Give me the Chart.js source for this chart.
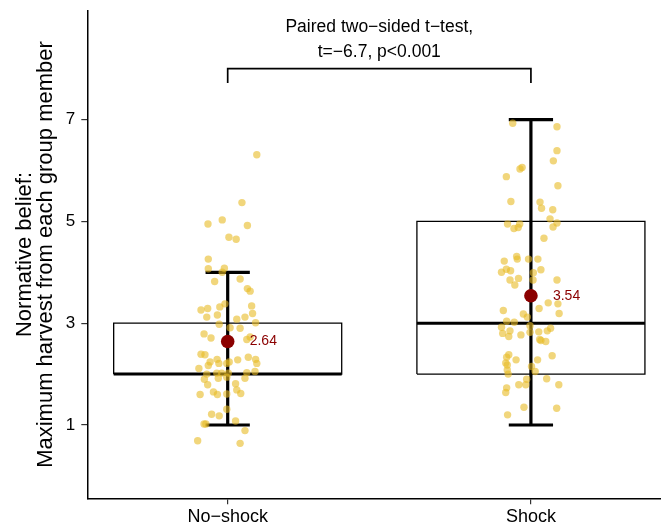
<!DOCTYPE html>
<html>
<head>
<meta charset="utf-8">
<script src="https://cdn.jsdelivr.net/npm/chart.js@4.4.1/dist/chart.umd.min.js"></script>
<style>
  html, body { margin: 0; padding: 0; background: #fff; }
  #chart { display: block; }
</style>
</head>
<body>
<canvas id="chart" width="661" height="528"></canvas>
<script>
// --- Data ---
const CATEGORIES = ['No\u2212shock', 'Shock'];
const Y_TICKS = [1, 3, 5, 7];

const BOX_Q1 = [2, 2];
const BOX_MEDIAN = [2, 3];
const BOX_Q3 = [3, 5];
const WHISKER_LOW = [1, 1];
const WHISKER_HIGH = [4, 7];
const MEANS = [2.64, 3.54];
const MEAN_LABELS = ['2.64', '3.54'];

const TEST_TEXT = ['Paired two\u2212sided t\u2212test,', 't=\u22126.7, p<0.001'];

// individual responses (jittered), y value and horizontal jitter in category units
const NOSHOCK_Y = [6.31, 5.37, 4.95, 5.03, 4.92, 4.69, 4.65, 4.26, 4.07, 4.08,
  4.00, 3.82, 3.87, 3.68, 3.63, 3.38, 3.34, 3.32, 3.26, 3.29,
  3.12, 3.16, 3.08, 3.12, 3.19, 3.01, 2.98, 2.91, 2.90, 2.79,
  2.71, 2.68, 2.73, 2.39, 2.38, 2.24, 2.29, 2.21, 2.21, 2.24,
  2.28, 2.33, 2.29, 2.21, 2.17, 2.11, 2.00, 2.02, 2.02, 2.02,
  2.03, 2.05, 1.90, 1.92, 1.94, 1.92, 1.79, 1.81, 1.69, 1.62,
  1.60, 1.65, 1.60, 1.61, 1.31, 1.21, 1.18, 1.08, 1.02, 1.02,
  0.89, 0.69, 0.64];
const NOSHOCK_JITTER = [0.096, 0.047, -0.065, -0.018, 0.065, 0.004, 0.028, -0.064, -0.064, -0.011,
  -0.018, -0.043, 0.041, 0.065, 0.074, -0.009, 0.079, -0.026, -0.088, -0.066,
  -0.069, -0.034, 0.030, 0.057, 0.082, 0.092, -0.028, 0.008, 0.041, -0.078,
  -0.055, 0.063, 0.074, -0.088, -0.075, -0.058, -0.035, -0.029, -0.003, 0.005,
  0.033, 0.068, 0.092, 0.096, -0.064, -0.095, -0.069, -0.036, -0.020, 0.002,
  0.063, 0.090, -0.077, -0.031, -0.003, 0.057, -0.066, 0.026, 0.030, 0.043,
  -0.091, -0.047, -0.034, -0.003, -0.003, -0.053, -0.028, 0.026, -0.078, -0.072,
  0.057, -0.099, 0.041];

const SHOCK_Y = [6.93, 6.86, 6.39, 6.19, 6.06, 6.03, 5.88, 5.70, 5.39, 5.38,
  5.26, 5.23, 5.05, 4.97, 4.89, 4.95, 4.95, 4.86, 4.88, 4.67,
  4.31, 4.26, 4.22, 4.26, 4.26, 4.06, 4.03, 4.00, 4.05, 3.99,
  3.85, 3.88, 3.75, 3.85, 3.85, 3.29, 3.40, 3.38, 3.19, 3.25,
  3.18, 3.12, 3.04, 3.02, 2.92, 2.80, 2.85, 2.74, 2.77, 2.95,
  2.82, 2.83, 2.85, 2.90, 2.68, 2.66, 2.64, 2.38, 2.33, 2.22,
  2.18, 2.28, 2.28, 2.36, 2.15, 2.05, 2.08, 2.00, 1.90, 1.79,
  1.79, 1.91, 1.79, 1.73, 1.64, 1.35, 1.33, 1.20];
const SHOCK_JITTER = [-0.060, 0.086, 0.086, 0.074, -0.029, -0.036, -0.081, 0.089, -0.066, 0.030,
  0.035, 0.072, 0.063, 0.086, 0.073, -0.077, -0.037, -0.056, -0.042, 0.043,
  -0.047, -0.045, -0.088, -0.008, 0.023, -0.081, -0.067, -0.097, 0.033, 0.008,
  -0.069, -0.041, -0.053, 0.007, 0.086, 0.027, 0.057, 0.089, 0.093, -0.091,
  -0.025, -0.012, -0.080, -0.055, -0.097, -0.093, -0.069, -0.073, -0.033, -0.003,
  -0.003, 0.026, 0.054, 0.065, 0.029, 0.033, 0.049, -0.073, -0.080, -0.083,
  -0.078, -0.049, 0.022, 0.070, 0.002, 0.014, -0.078, -0.075, -0.014, -0.040,
  -0.017, 0.052, 0.092, -0.080, -0.083, -0.023, 0.085, -0.077];

// --- Styling / geometry ---
const FONT = "'Liberation Sans', Arial, Helvetica, sans-serif";
const BOX_HALF = 0.376;     // half box width, category units
const CAP_HALF = 0.073;     // half whisker cap width
const BRACKET_Y = 8.0;
const BRACKET_TIP = 7.72;
const TEXT_Y = [8.727, 8.236];
const POINT_COLOR = 'rgba(232, 186, 36, 0.6)';
const MEAN_COLOR = '#8b0000';

const groupPoints = [
  NOSHOCK_Y.map((y, i) => ({ x: 1 + NOSHOCK_JITTER[i], y: y })),
  SHOCK_Y.map((y, i) => ({ x: 2 + SHOCK_JITTER[i], y: y }))
];

function seg(points, width, order) {
  return {
    data: points,
    showLine: true,
    borderColor: '#000',
    borderWidth: width,
    pointRadius: 0,
    pointHoverRadius: 0,
    tension: 0,
    fill: false,
    order: order
  };
}

const datasets = [];

// mean dots on top
datasets.push({
  data: MEANS.map((m, i) => ({ x: i + 1, y: m })),
  pointRadius: 6.8,
  pointBackgroundColor: MEAN_COLOR,
  pointBorderColor: MEAN_COLOR,
  pointBorderWidth: 0,
  order: 0
});

// raw points
groupPoints.forEach(pts => {
  datasets.push({
    data: pts,
    pointRadius: 3.7,
    pointBackgroundColor: POINT_COLOR,
    pointBorderWidth: 0,
    order: 1
  });
});

// boxes, medians, whiskers
CATEGORIES.forEach((c, i) => {
  const x = i + 1;
  datasets.push(seg([
    { x: x - BOX_HALF, y: BOX_Q1[i] }, { x: x + BOX_HALF, y: BOX_Q1[i] },
    { x: x + BOX_HALF, y: BOX_Q3[i] }, { x: x - BOX_HALF, y: BOX_Q3[i] },
    { x: x - BOX_HALF, y: BOX_Q1[i] }
  ], 1.3, 4));
  datasets.push(seg([
    { x: x - BOX_HALF, y: BOX_MEDIAN[i] }, { x: x + BOX_HALF, y: BOX_MEDIAN[i] }
  ], 3, 3));
  datasets.push(seg([{ x: x, y: WHISKER_LOW[i] }, { x: x, y: WHISKER_HIGH[i] }], 3.2, 2));
  datasets.push(seg([{ x: x - CAP_HALF, y: WHISKER_LOW[i] }, { x: x + CAP_HALF, y: WHISKER_LOW[i] }], 3.2, 2));
  datasets.push(seg([{ x: x - CAP_HALF, y: WHISKER_HIGH[i] }, { x: x + CAP_HALF, y: WHISKER_HIGH[i] }], 3.2, 2));
});

// significance bracket
datasets.push(seg([
  { x: 1, y: BRACKET_TIP }, { x: 1, y: BRACKET_Y },
  { x: 2, y: BRACKET_Y }, { x: 2, y: BRACKET_TIP }
], 1.7, 4));

// text for means and test
const textPlugin = {
  id: 'textPlugin',
  afterDatasetsDraw(chart) {
    const ctx = chart.ctx;
    const xs = chart.scales.x;
    const ys = chart.scales.y;
    ctx.save();
    ctx.fillStyle = MEAN_COLOR;
    ctx.font = '14px ' + FONT;
    ctx.textAlign = 'left';
    ctx.textBaseline = 'middle';
    MEANS.forEach((m, i) => {
      ctx.fillText(MEAN_LABELS[i], xs.getPixelForValue(i + 1) + 22, ys.getPixelForValue(m));
    });
    ctx.fillStyle = '#000';
    ctx.font = '17.5px ' + FONT;
    ctx.textAlign = 'center';
    ctx.textBaseline = 'alphabetic';
    TEST_TEXT.forEach((t, i) => {
      ctx.fillText(t, xs.getPixelForValue(1.5), ys.getPixelForValue(TEXT_Y[i]));
    });
    ctx.restore();
  }
};

function noPad(scale) {
  scale.paddingTop = 0;
  scale.paddingBottom = 0;
  scale.paddingLeft = 0;
  scale.paddingRight = 0;
}

new Chart(document.getElementById('chart'), {
  type: 'scatter',
  data: { datasets: datasets },
  options: {
    responsive: false,
    animation: false,
    devicePixelRatio: 1,
    layout: { autoPadding: false, padding: { top: 10.7, left: 0, right: 0, bottom: 0 } },
    plugins: {
      legend: { display: false },
      tooltip: { enabled: false }
    },
    scales: {
      x: {
        type: 'linear',
        min: 0.537,
        max: 2.429,
        afterFit(scale) { scale.height = 29.7; noPad(scale); },
        afterBuildTicks(scale) { scale.ticks = CATEGORIES.map((c, i) => ({ value: i + 1 })); },
        ticks: {
          color: '#000',
          font: { family: FONT, size: 18 },
          padding: 2,
          maxRotation: 0,
          callback: (v) => CATEGORIES[Math.round(v) - 1]
        },
        grid: { drawOnChartArea: false, drawTicks: true, tickLength: 6, color: '#333', lineWidth: 1.2 },
        border: { display: true, color: '#000', width: 1.5 }
      },
      y: {
        type: 'linear',
        min: -0.44,
        max: 9.14,
        afterFit(scale) { scale.width = 87.3; noPad(scale); },
        afterBuildTicks(scale) { scale.ticks = Y_TICKS.map(v => ({ value: v })); },
        ticks: {
          color: '#000',
          font: { family: FONT, size: 17 },
          padding: 6,
          callback: (v) => String(v)
        },
        title: {
          display: true,
          text: ['Normative belief:', 'Maximum harvest from each group member'],
          color: '#000',
          font: { family: FONT, size: 22, lineHeight: 0.96 },
          padding: { top: 14, bottom: 0 }
        },
        grid: { drawOnChartArea: false, drawTicks: true, tickLength: 6, color: '#333', lineWidth: 1.2 },
        border: { display: true, color: '#000', width: 1.5 }
      }
    }
  },
  plugins: [textPlugin]
});
</script>
</body>
</html>
